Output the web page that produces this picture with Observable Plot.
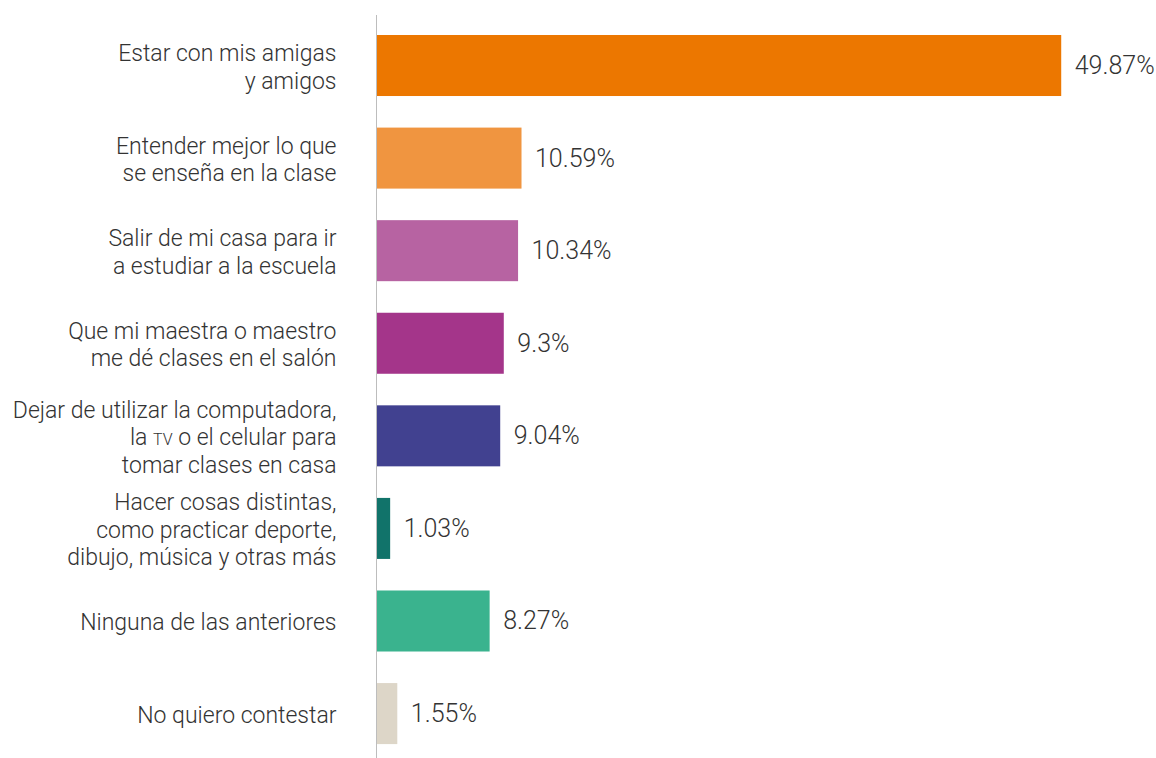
<!DOCTYPE html>
<html><head><meta charset="utf-8">
<script src="https://cdn.jsdelivr.net/npm/d3@7"></script>
<script src="https://cdn.jsdelivr.net/npm/@observablehq/plot@0.6"></script>
<style>body{margin:0;background:#fff;}</style>
</head><body><div id="chart"></div>
<script>
const categories = [
  "Estar con mis amigas\ny amigos",
  "Entender mejor lo que\nse enseña en la clase",
  "Salir de mi casa para ir\na estudiar a la escuela",
  "Que mi maestra o maestro\nme dé clases en el salón",
  "Dejar de utilizar la computadora,\nla TV o el celular para\ntomar clases en casa",
  "Hacer cosas distintas,\ncomo practicar deporte,\ndibujo, música y otras más",
  "Ninguna de las anteriores",
  "No quiero contestar"
];
const values = [49.87, 10.59, 10.34, 9.3, 9.04, 1.03, 8.27, 1.55];
const palette = ["#ec7700", "#f09540", "#b763a2", "#a4358a", "#414190", "#11736a", "#3ab38e", "#ddd6c8"];

const data = categories.map((c, i) => ({category: c, value: values[i]}));

const chart = Plot.plot({
  width: 1156, height: 758,
  marginLeft: 376, marginRight: 93, marginTop: 18, marginBottom: 0,
  style: {fontFamily: "Roboto, 'Open Sans', sans-serif", background: "#fff"},
  x: {domain: [0, 50], axis: null},
  y: {domain: categories, axis: null, paddingInner: 0.341, paddingOuter: 0.167, align: 0.55, round: false},
  color: {domain: categories, range: palette},
  marks: [
    Plot.barX(data, {x: "value", y: "category", fill: "category"}),
    Plot.ruleX([0], {stroke: "#bdbdbd", strokeWidth: 1, insetTop: -3}),
    Plot.text(data, {x: "value", y: "category", text: d => `${d.value}%`, textAnchor: "start", dx: 13, fontSize: 25, fontWeight: 300, fill: "#333"}),
    Plot.text(data, {x: 0, y: "category", text: "category", textAnchor: "end", dx: -40, fontSize: 23, fontWeight: 300, lineHeight: 1.2, fill: "#333"})
  ]
});
document.getElementById("chart").appendChild(chart);

// render "TV" as small caps
chart.querySelectorAll("tspan").forEach(t => {
  if (t.textContent === "la TV o el celular para") {
    t.textContent = "";
    t.appendChild(document.createTextNode("la "));
    const s = document.createElementNS("http://www.w3.org/2000/svg", "tspan");
    s.setAttribute("font-size", "16");
    s.textContent = "TV";
    t.appendChild(s);
    t.appendChild(document.createTextNode(" o el celular para"));
  }
});
</script>
</body></html>
